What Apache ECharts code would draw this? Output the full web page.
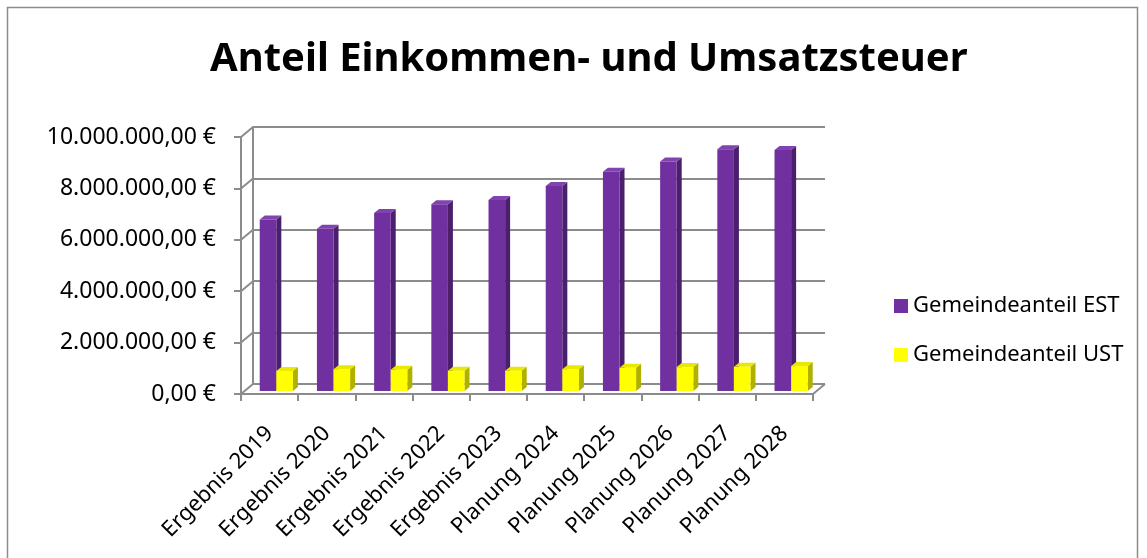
<!DOCTYPE html>
<html lang="de">
<head>
<meta charset="UTF-8">
<title>Anteil Einkommen- und Umsatzsteuer</title>
<script src="https://cdn.jsdelivr.net/npm/echarts@6/dist/echarts.min.js"></script>
<style>
  html, body { margin: 0; padding: 0; background: #fff; }
  #main { width: 1147px; height: 558px; }
</style>
</head>
<body>
<div id="main"></div>
<script type="text/javascript">
// Daten
var categories = ['Ergebnis 2019', 'Ergebnis 2020', 'Ergebnis 2021', 'Ergebnis 2022', 'Ergebnis 2023',
                  'Planung 2024', 'Planung 2025', 'Planung 2026', 'Planung 2027', 'Planung 2028'];
var estValues = [6670000, 6310000, 6930000, 7270000, 7430000, 7980000, 8530000, 8930000, 9410000, 9380000];
var ustValues = [780000, 850000, 830000, 790000, 790000, 850000, 900000, 930000, 940000, 970000];
var yTicks = [0, 2000000, 4000000, 6000000, 8000000, 10000000];

var FONT = '"Noto Sans", "Open Sans", sans-serif';
var GREY = '#8c8c8c';
// Versatz Rückwand gegenüber Vorderkante
var WALL_DX = 12, WALL_DY = -10;

function euro(v) {
    var s = Math.round(v).toString().replace(/\B(?=(\d{3})+(?!\d))/g, '.');
    return s + ',00 €';
}

// 3D-Säule zeichnen
function cube(x, yTop, yBase, w, face, side, top) {
    var d = 5, h = -4;
    return [
        { type: 'polygon', shape: { points: [[x + w, yTop], [x + w + d, yTop + h], [x + w + d, yBase + h], [x + w, yBase]] }, style: { fill: side } },
        { type: 'polygon', shape: { points: [[x, yTop], [x + d, yTop + h], [x + w + d, yTop + h], [x + w, yTop]] }, style: { fill: top } },
        { type: 'rect', shape: { x: x, y: yTop, width: w, height: yBase - yTop }, style: { fill: face } }
    ];
}

function barRenderer(offsetRatio, face, side, top) {
    return function (params, api) {
        var idx = api.value(0);
        var p = api.coord([idx, api.value(1)]);
        var b = api.coord([idx, 0]);
        var cw = api.size([1, 0])[0];
        var left = p[0] - cw / 2 + cw * offsetRatio;
        var w = cw * 0.29;
        // Säulen stehen etwas hinter der Vorderkante
        var sx = 3, sy = -3;
        return { type: 'group', children: cube(left + sx, p[1] + sy, b[1] + sy, w, face, side, top) };
    };
}

var estData = estValues.map(function (v, i) { return [i, v]; });
var ustData = ustValues.map(function (v, i) { return [i, v]; });
var diagData = yTicks.map(function (v) { return [v]; });

var chart = echarts.init(document.getElementById('main'));
chart.setOption({
    animation: false,
    textStyle: { fontFamily: FONT, color: '#000' },
    title: {
        text: 'Anteil Einkommen- und Umsatzsteuer',
        left: 205,
        top: 35,
        textStyle: { fontFamily: FONT, fontSize: 40, fontWeight: 'bold', color: '#000' }
    },
    graphic: [{
        type: 'rect',
        shape: { x: 7.5, y: 7.5, width: 1130, height: 570 },
        style: { fill: 'none', stroke: '#8c8c8c', lineWidth: 1.5 },
        silent: true
    }],
    legend: {
        orient: 'vertical',
        left: 889,
        top: 290,
        itemWidth: 14,
        itemHeight: 14,
        itemGap: 27,
        icon: 'rect',
        textStyle: { fontFamily: FONT, fontSize: 22, color: '#000' },
        data: ['Gemeindeanteil EST', 'Gemeindeanteil UST']
    },
    grid: [
        { left: 241, right: 334, top: 137, bottom: 164 },
        { left: 253, right: 322, top: 127, bottom: 174 }
    ],
    xAxis: [{
        gridIndex: 0,
        type: 'category',
        data: categories,
        axisLine: { lineStyle: { color: GREY, width: 2 } },
        axisTick: { show: true, length: 7, lineStyle: { color: GREY, width: 2 } },
        axisLabel: { rotate: 45, fontSize: 22, color: '#000', margin: 36, fontFamily: FONT, interval: 0 }
    }, {
        gridIndex: 1,
        type: 'category',
        data: categories,
        show: false
    }],
    yAxis: [{
        gridIndex: 0,
        type: 'value',
        min: 0,
        max: 10000000,
        interval: 2000000,
        axisLine: { show: true, lineStyle: { color: GREY, width: 2 } },
        axisTick: { show: true, length: 7, lineStyle: { color: GREY, width: 2 } },
        axisLabel: { fontSize: 23, color: '#000', margin: 25, fontFamily: FONT, formatter: euro },
        splitLine: { show: false }
    }, {
        gridIndex: 1,
        type: 'value',
        min: 0,
        max: 10000000,
        interval: 2000000,
        axisLine: { show: true, lineStyle: { color: GREY, width: 2 } },
        axisTick: { show: false },
        axisLabel: { show: false },
        splitLine: { show: true, lineStyle: { color: GREY, width: 2 } }
    }],
    series: [{
        // Schräge Linien der Seitenwand und des Bodens
        type: 'custom',
        name: 'wand',
        xAxisIndex: 0,
        yAxisIndex: 0,
        silent: true,
        z: 1,
        data: diagData,
        encode: { y: 0 },
        renderItem: function (params, api) {
            var v = api.value(0);
            var p = api.coord([0, v]);
            var cw = api.size([1, 0])[0];
            var x0 = p[0] - cw / 2;
            var children = [{
                type: 'line',
                shape: { x1: x0, y1: p[1], x2: x0 + WALL_DX, y2: p[1] + WALL_DY },
                style: { stroke: GREY, lineWidth: 2 }
            }];
            if (v === 0) {
                var xr = x0 + cw * categories.length;
                children.push({
                    type: 'line',
                    shape: { x1: xr, y1: p[1], x2: xr + WALL_DX, y2: p[1] + WALL_DY },
                    style: { stroke: GREY, lineWidth: 2 }
                });
            }
            return { type: 'group', children: children };
        }
    }, {
        type: 'custom',
        name: 'Gemeindeanteil EST',
        xAxisIndex: 0,
        yAxisIndex: 0,
        z: 3,
        itemStyle: { color: '#7030a0' },
        data: estData,
        encode: { x: 0, y: 1 },
        renderItem: barRenderer(0.275, '#7030a0', '#4a1f6c', '#8043b0')
    }, {
        type: 'custom',
        name: 'Gemeindeanteil UST',
        xAxisIndex: 0,
        yAxisIndex: 0,
        z: 4,
        itemStyle: { color: '#ffff00' },
        data: ustData,
        encode: { x: 0, y: 1 },
        renderItem: barRenderer(0.565, '#ffff00', '#b0b000', '#e8e800')
    }]
});
</script>
</body>
</html>
